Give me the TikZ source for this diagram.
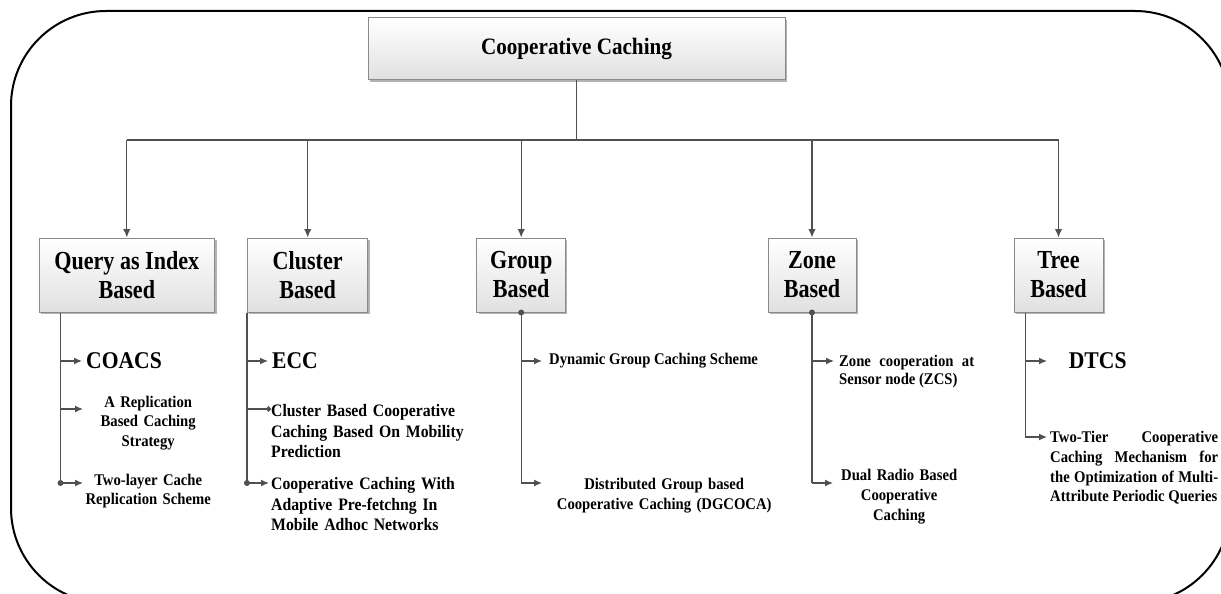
\documentclass[tikz,border=0pt]{standalone}
\usepackage{fontspec}
\newfontfamily\tnr{Liberation Serif}[FakeStretch=0.9]
\newfontfamily\tnrc{Liberation Serif}[FakeStretch=0.85]
\usetikzlibrary{arrows.meta,shadows}
\definecolor{linec}{HTML}{505050}
\definecolor{boxb}{HTML}{8A8A8A}
\tolerance=10000 \hbadness=10000 \hyphenpenalty=10000
\newcommand\ftitle{\tnr\bfseries\fontsize{23.5}{28}\selectfont}
\newcommand\fcat{\tnrc\bfseries\fontsize{26}{29}\selectfont}
\newcommand\fbig{\tnr\bfseries\fontsize{24}{28}\selectfont}
\newcommand\fmid{\tnr\bfseries\fontsize{17.5}{20.8}\selectfont}
\newcommand\fsmall{\tnr\bfseries\fontsize{16.3}{19.8}\selectfont}
\newcommand\ftight{\tnr\bfseries\fontsize{16.3}{18.3}\selectfont}
\tikzset{
  box/.style={draw=boxb, line width=1pt, top color=white, bottom color=black!12,
    inner sep=0pt, align=center,
    drop shadow={shadow xshift=2pt, shadow yshift=-2pt, fill=black!50, opacity=0.6}},
  cbox/.style={box, minimum height=74pt, font=\fcat},
  conn/.style={draw=linec, line width=1.3pt},
  arr/.style={conn, -{Latex[length=8pt,width=7pt]}},
  bigarr/.style={conn, -{Latex[length=8.5pt,width=7.5pt]}},
  lbl/.style={inner sep=0pt},
}
\begin{document}
\begin{tikzpicture}[x=1pt,y=-1pt]
\useasboundingbox (0,0) rectangle (1221,594);
\begin{scope}
  \clip (0,0) rectangle (1221,594);
  \draw[line width=2pt, rounded corners=95pt] (11,11) rectangle (1230,603);
\end{scope}

% top node
\node[box, minimum width=417pt, minimum height=62pt, font=\ftitle] (top) at (576.5,49) {Cooperative Caching};

% categories
\node[cbox, minimum width=175.6pt] (q)  at (126.8,275) {Query as Index\\Based};
\node[cbox, minimum width=120.5pt] (cl) at (307.7,275) {Cluster\\Based};
\node[cbox, minimum width=88.5pt]  (g)  at (521.2,275) {Group\\Based};
\node[cbox, minimum width=88pt]    (z)  at (812,275)   {Zone\\Based};
\node[cbox, minimum width=89pt]    (t)  at (1058.5,275) {Tree\\Based};

\coordinate (bus) at (576.5,140);
\draw[conn] (top.south) -- (bus);
\draw[conn] (q.north |- bus) -- (t.north |- bus);
\foreach \n in {q,cl,g,z,t} \draw[bigarr] (\n.north |- bus) -- (\n.north);

% ---- Query as Index Based
\coordinate (qa) at ([xshift=22pt]q.south west);
\node[lbl, anchor=west, font=\fbig] (coacs) at (86,361) {COACS};
\node[lbl, anchor=west, font=\fsmall, text width=130pt, align=center] (rep) at (83,423) {A Replication\\Based Caching\\Strategy};
\node[lbl, anchor=west, font=\ftight, text width=130pt, align=center] (two) at (83,491) {Two-layer Cache\\Replication Scheme};
\coordinate (repin) at ([yshift=14pt]rep.west);
\coordinate (twoin) at ([yshift=8pt]two.west);
\draw[conn] (qa) -- (qa |- twoin);
\fill[linec] (qa |- twoin) circle (3pt);
\draw[arr, shorten >=4pt] (qa |- coacs.west) -- (coacs.west);
\draw[arr] (qa |- repin) -- (repin);
\draw[arr] (qa |- twoin) -- (twoin);

% ---- Cluster Based
\coordinate (ca) at (cl.south west);
\node[lbl, anchor=west, font=\fbig] (ecc) at (272,361) {ECC};
\node[lbl, anchor=north west, font=\fmid, text width=200pt, align=left] (cbc) at (271,404) {Cluster Based Cooperative\\Caching Based On Mobility\\Prediction};
\node[lbl, anchor=north west, font=\fmid, text width=200pt, align=left] (ccw) at (271,477) {Cooperative Caching With\\Adaptive Pre-fetchng In\\Mobile Adhoc Networks};
\coordinate (cbcin) at ([yshift=-5pt]cbc.north west);
\coordinate (ccwin) at ([yshift=-6pt]ccw.north west);
\draw[conn] (ca) -- (ca |- ccwin);
\fill[linec] (ca |- ccwin) circle (3pt);
\draw[arr, shorten >=4pt] (ca |- ecc.west) -- (ecc.west);
\draw[conn, -{Circle[length=5pt]}] (ca |- cbcin) -- (cbcin);
\draw[arr, shorten >=2pt] (ca |- ccwin) -- (ccwin);

% ---- Group Based
\coordinate (ga) at (g.south);
\node[lbl, anchor=west, font=\fsmall] (dgc) at (549,361) {Dynamic Group Caching Scheme};
\node[lbl, anchor=west, font=\fsmall, text width=240pt, align=center] (dg) at (544,496) {Distributed Group based\\Cooperative Caching (DGCOCA)};
\coordinate (dgin) at ([yshift=13pt]dg.west);
\draw[conn] (ga) -- (ga |- dgin);
\fill[linec] (ga) circle (3pt);
\draw[arr, shorten >=7pt] (ga |- dgc.west) -- (dgc.west);
\draw[arr, shorten >=2pt] (ga |- dgin) -- (dgin);

% ---- Zone Based
\coordinate (za) at (z.south);
\node[lbl, anchor=north west, font=\ftight, text width=135pt, align=justify] (zc) at (839,355) {Zone cooperation at\linebreak Sensor node (ZCS)};
\node[lbl, anchor=west, font=\fsmall, text width=128pt, align=center] (dr) at (835,496.5) {Dual Radio Based\\Cooperative\\Caching};
\coordinate (zcin) at ([yshift=-6pt]zc.north west);
\coordinate (drin) at ([yshift=13.5pt]dr.west);
\draw[conn] (za) -- (za |- drin);
\fill[linec] (za) circle (3pt);
\draw[arr, shorten >=5pt] (za |- zcin) -- (zcin);
\draw[arr, shorten >=2pt] (za |- drin) -- (drin);

% ---- Tree Based
\coordinate (ta) at ([xshift=11.7pt]t.south west);
\node[lbl, anchor=west, font=\fbig, text width=97pt, align=center] (dt) at (1049,361) {DTCS};
\node[lbl, anchor=north west, font=\fsmall, text width=168pt, align=justify] (tt) at (1050,431) {Two-Tier Cooperative\linebreak Caching Mechanism for\linebreak the Optimization of Multi-\linebreak Attribute Periodic Queries};
\coordinate (ttin) at ([yshift=-6pt]tt.north west);
\draw[conn] (ta) -- (ta |- ttin);
\draw[arr, shorten >=2pt] (ta |- dt.west) -- (dt.west);
\draw[arr, shorten >=3pt] (ta |- ttin) -- (ttin);
\end{tikzpicture}
\end{document}
